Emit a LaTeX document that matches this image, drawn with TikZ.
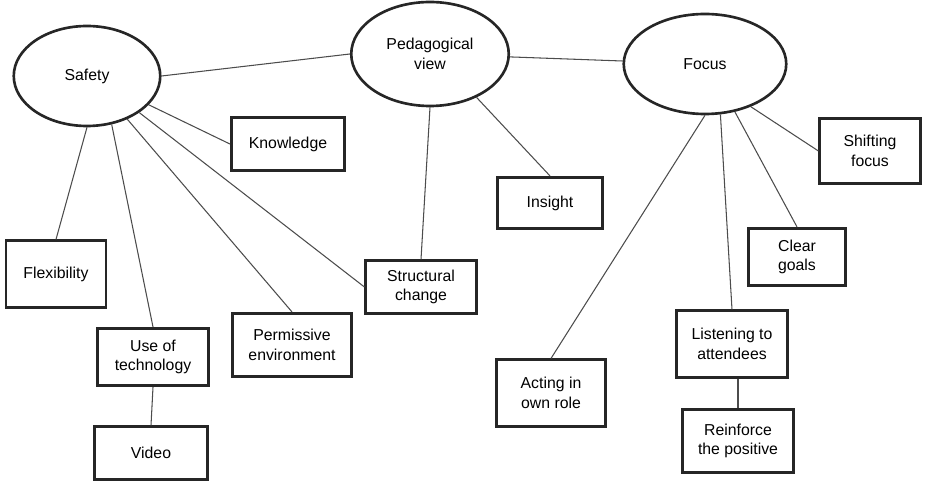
\documentclass[tikz,border=0pt]{standalone}
\usepackage{fontspec}
\setmainfont{Liberation Sans}
\usepackage{tikz}
\usetikzlibrary{shapes.geometric}
\tikzset{
  theme/.style={
    ellipse,
    draw=black!85,
    line width=1.5pt,
    inner sep=0pt,
    minimum width=3.1cm,
    minimum height=2.05cm,
    align=center,
    font=\fontsize{9}{11}\selectfont
  },
  codebox/.style={
    rectangle,
    draw=black!85,
    line width=1.5pt,
    inner sep=0pt,
    minimum width=2.2cm,
    minimum height=1.1cm,
    align=center,
    font=\fontsize{9}{11}\selectfont
  },
  link/.style={
    draw=black!70,
    line width=0.6pt
  }
}
\begin{document}
\begin{tikzpicture}
\useasboundingbox (0,0) rectangle (18.64,-9.68);
% main themes
\node[theme, minimum width=2.93cm, minimum height=2.0cm] (safety) at (1.74,-1.52) {Safety};
\node[theme, minimum width=3.15cm, minimum height=2.08cm] (pedview) at (8.60,-1.08) {Pedagogical\\view};
\node[theme, minimum width=3.25cm, minimum height=2.0cm] (focus) at (14.10,-1.28) {Focus};
% sub themes
\node[codebox, minimum width=2.27cm, minimum height=1.05cm] (knowledge) at (5.76,-2.88) {Knowledge};
\node[codebox, minimum width=2.0cm, minimum height=1.33cm] (flexibility) at (1.12,-5.48) {Flexibility};
\node[codebox, minimum width=2.23cm, minimum height=1.15cm] (technology) at (3.06,-7.14) {Use of\\technology};
\node[codebox, minimum width=2.27cm, minimum height=1.05cm] (video) at (3.02,-9.06) {Video};
\node[codebox, minimum width=2.37cm, minimum height=1.27cm] (permissive) at (5.84,-6.90) {Permissive\\environment};
\node[codebox, minimum width=2.21cm, minimum height=1.05cm] (structural) at (8.42,-5.74) {Structural\\change};
\node[codebox, minimum width=2.11cm, minimum height=1.03cm] (insight) at (11.00,-4.06) {Insight};
\node[codebox, minimum width=2.19cm, minimum height=1.33cm] (acting) at (11.02,-7.86) {Acting in\\own role};
\node[codebox, minimum width=2.21cm, minimum height=1.33cm] (listening) at (14.64,-6.88) {Listening to\\attendees};
\node[codebox, minimum width=2.21cm, minimum height=1.25cm] (reinforce) at (14.76,-8.82) {Reinforce\\the positive};
\node[codebox, minimum width=1.93cm, minimum height=1.15cm] (goals) at (15.94,-5.14) {Clear\\goals};
\node[codebox, minimum width=2.01cm, minimum height=1.29cm] (shifting) at (17.40,-3.02) {Shifting\\focus};
% links between themes
\draw[link] (safety.east) -- (pedview.west);
\draw[link] (pedview) -- (focus);
% safety
\draw[link] (safety.-25) -- (knowledge.west);
\draw[link] (safety.south) -- (flexibility.north);
\draw[link] (safety.-63) -- (technology.north);
\draw[link] (safety.-47) -- (permissive.north);
\draw[link] (safety.-35) -- (structural.west);
\draw[link] (technology.south) -- (video.north);
% pedagogical view
\draw[link] (pedview.south) -- (structural.north);
\draw[link] (pedview.-43) -- (insight.north);
% focus
\draw[link] (focus.south) -- (acting.north);
\draw[link] (focus.-73) -- (listening.north);
\draw[link] (focus.-58) -- (goals.north);
\draw[link] (focus.-43) -- (shifting.west);
\draw[link] (reinforce.north |- listening.south) -- (reinforce.north);
\end{tikzpicture}
\end{document}
